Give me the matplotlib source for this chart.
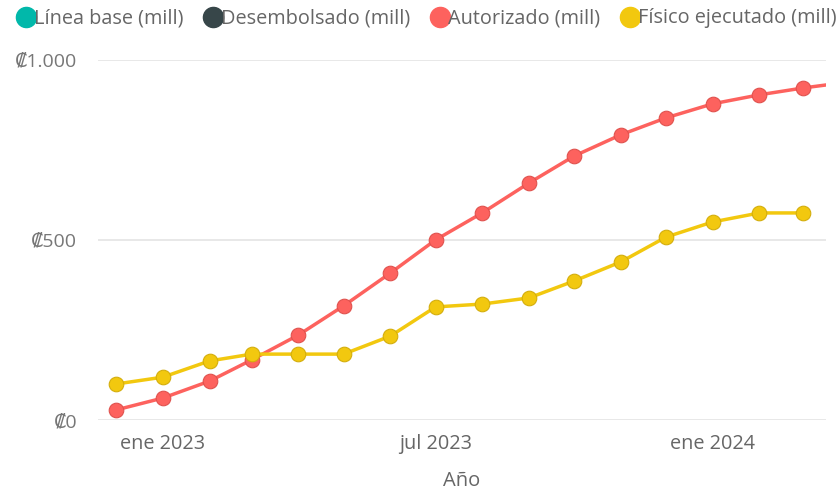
import pandas as pd
import matplotlib.pyplot as plt
from matplotlib.lines import Line2D

plt.rcParams['font.family'] = ['Open Sans', 'DejaVu Sans']

meses = pd.date_range("2022-12-01", "2024-04-01", freq="MS")
autorizado = [28, 61, 108, 167, 236, 317, 408, 500, 575, 658, 733, 792, 839, 878, 903, 922, 939]
fisico = [100, 119, 164, 183, 183, 183, 233, 314, 322, 339, 386, 439, 508, 550, 575, 575]

series = ["Línea base (mill)", "Desembolsado (mill)", "Autorizado (mill)", "Físico ejecutado (mill)"]
colores = ["#01B8AA", "#374649", "#FD625E", "#F2C80F"]
bordes = ["#01A093", "#2B3638", "#E0524E", "#D4AE0C"]
yticks = [0, 500, 1000]
ylabels = ["₡0", "₡500", "₡1.000"]
xticks = ["2023-01-01", "2023-07-01", "2024-01-01"]
xlabels = ["ene 2023", "jul 2023", "ene 2024"]

fig = plt.figure(figsize=(8.4, 4.92), dpi=100)
ax = fig.add_axes([0.1167, 0.1463, 0.8663, 0.732])

# linea roja y amarilla
ax.plot(meses, autorizado, color=colores[2], lw=2.5, marker='o', ms=10.5,
        mfc=colores[2], mec=bordes[2], mew=0.8, zorder=3)
ax.plot(meses[:len(fisico)], fisico, color=colores[3], lw=2.5, marker='o', ms=10.5,
        mfc=colores[3], mec=bordes[3], mew=0.8, zorder=4)

ax.set_ylim(0, 1000)
ax.set_xlim(pd.Timestamp("2022-11-19"), pd.Timestamp("2024-03-16"))
ax.set_yticks(yticks)
ax.set_yticklabels(ylabels)
ax.set_xticks(pd.to_datetime(xticks))
ax.set_xticklabels(xlabels)
ax.grid(axis='y', color='#E6E6E6', lw=1.3)
ax.set_axisbelow(True)
for s in ax.spines.values():
    s.set_visible(False)
ax.tick_params(axis='y', length=0, pad=15, labelsize=14, labelcolor='#777777')
ax.tick_params(axis='x', length=0, pad=10, labelsize=14.3, labelcolor='#666666')
ax.set_xlabel("Año", fontsize=14.5, color='#666666', labelpad=12)

handles = [Line2D([], [], ls='none', marker='o', ms=14.5, mfc=c, mec=c) for c in colores]
fig.legend(handles, series, loc='upper left', bbox_to_anchor=(0.004, 1.007), ncol=4,
           frameon=False, handletextpad=-0.15, columnspacing=0.95, handlelength=1.1,
           fontsize=14.3, labelcolor='#666666', borderaxespad=0.2)

fig.savefig("out.png", dpi=100)
